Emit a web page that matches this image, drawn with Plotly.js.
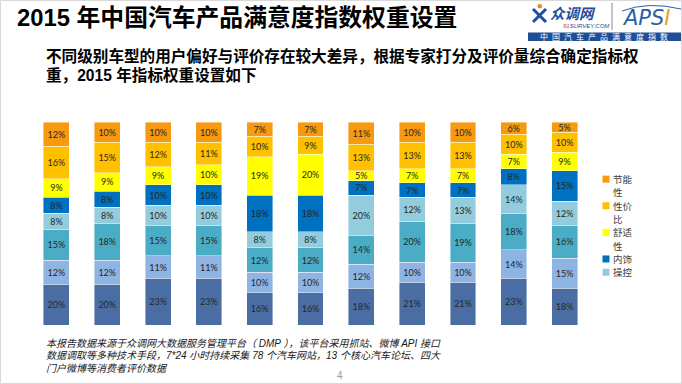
<!DOCTYPE html>
<html>
<head>
<meta charset="utf-8">
<script src="https://cdn.plot.ly/plotly-3.0.1.min.js"></script>
<style>
html,body{margin:0;padding:0;background:#fff;}
#chart{width:682px;height:384px;}
</style>
</head>
<body>
<div id="chart"></div>
<script>
// ---- data ----
const categories = ['车型1','车型2','车型3','车型4','车型5','车型6','车型7','车型8','车型9','车型10','车型11'];
// series from bottom of the stack to the top (percent)
const seriesNames = ['动力','空间','外观','操控','内饰','舒适性','性价比','节能性'];
const s1 = [20,20,23,23,16,16,18,21,21,23,18];
const s2 = [12,12,11,11,10,10,12,10,10,14,15];
const s3 = [15,18,15,15,12,12,14,20,19,18,16];
const s4 = [8,8,10,10,8,8,20,12,13,14,12];   // 操控
const s5 = [8,8,10,10,18,18,7,7,7,8,15];     // 内饰
const s6 = [9,9,9,10,19,20,5,7,7,7,9];       // 舒适性
const s7 = [16,15,12,11,10,9,13,13,13,10,10];// 性价比
const s8 = [12,10,10,10,7,7,11,10,10,6,5];   // 节能性
const seriesValues = [s1,s2,s3,s4,s5,s6,s7,s8];
// legend shows the top five series (as in the reference, the rest is cut off)
const legendSeries = [7,6,5,4,3];

const titleText = '2015 年中国汽车产品满意度指数权重设置';
const subLines = ['不同级别车型的用户偏好与评价存在较大差异，根据专家打分及评价量综合确定指标权',
                  '重，2015 年指标权重设置如下'];
const noteLines = ['本报告数据来源于众调网大数据服务管理平台（ DMP ），该平台采用抓站、微博 API 接口',
                   '数据调取等多种技术手段，7*24 小时持续采集 78 个汽车网站，13 个核心汽车论坛、四大',
                   '门户微博等消费者评价数据'];
const pageNo = '4';

// ---- styles ----
const colors = ['#4a6ea3','#8eb4e3','#4bacc6','#93cddd','#0070c0','#ffff00','#ffc000','#f79a10'];
const W = 682, H = 384;
const M = {l:31, r:92, t:122, b:59};
const PW = W - M.l - M.r, PH = H - M.t - M.b;
const px = v => (v - M.l) / PW;
const py = v => (H - M.b - v) / PH;
const CJK = '"Noto Sans CJK SC", sans-serif';
const LAT = 'Liberation Sans, "Noto Sans CJK SC", sans-serif';

const traces = seriesValues.map((vals, i) => ({
  type: 'bar',
  x: categories,
  y: vals,
  name: seriesNames[i],
  showlegend: false,
  marker: {color: colors[i], line: {color: 'rgba(255,255,255,0.7)', width: 0.6}},
  texttemplate: '%{y}%',
  textposition: 'inside',
  insidetextanchor: 'middle',
  textangle: 0,
  constraintext: 'none',
  textfont: {family: 'Lato, "Liberation Sans", sans-serif', size: 9, color: '#262626'},
  hoverinfo: 'skip'
}));

const ann = [];
const shapes = [];
ann.push({xref:'paper', yref:'paper', x:px(15), y:py(18), xanchor:'left', yanchor:'middle', showarrow:false,
  text:'<b>'+titleText+'</b>', font:{family:LAT, size:23.8, color:'#000'}});
subLines.forEach((t,i) => ann.push({xref:'paper', yref:'paper', x:px(44), y:py(56 + i*19), xanchor:'left', yanchor:'middle', showarrow:false,
  text:'<b>'+t+'</b>', font:{family:LAT, size:15.6, color:'#000'}}));
noteLines.forEach((t,i) => ann.push({xref:'paper', yref:'paper', x:px(44), y:py(343 + i*12.5), xanchor:'left', yanchor:'middle', showarrow:false,
  text:'<i>'+t+'</i>', font:{family:LAT, size:10, color:'#1a1a1a'}}));
ann.push({xref:'paper', yref:'paper', x:px(340), y:py(375), xanchor:'center', yanchor:'middle', showarrow:false,
  text:pageNo, font:{family:LAT, size:10, color:'#999'}});

// legend (narrow column, labels wrap after two characters as in the reference)
const LINE = 13.3;
let legTop = 172.5;
legendSeries.forEach(si => {
  const name = seriesNames[si];
  const lines = [];
  for (let k = 0; k < name.length; k += 2) lines.push(name.slice(k, k + 2));
  const cy = legTop + LINE / 2;
  shapes.push({type:'rect', xref:'paper', yref:'paper', x0:px(602.5), x1:px(609.5), y0:py(cy - 3.5), y1:py(cy + 3.5),
               line:{width:0}, fillcolor:colors[si]});
  lines.forEach((ln, j) => ann.push({xref:'paper', yref:'paper', x:px(612), y:py(cy + j * LINE), xanchor:'left', yanchor:'middle',
            showarrow:false, text:ln, font:{family:CJK, size:9.5, color:'#404040'}, borderpad:0}));
  legTop += lines.length * LINE;
});

// logo texts
ann.push({xref:'paper', yref:'paper', x:px(548), y:py(12), xanchor:'left', yanchor:'middle', showarrow:false,
  text:'<b><i>众调网</i></b>', font:{family:CJK, size:14.5, color:'#1d4f9c'}});
ann.push({xref:'paper', yref:'paper', x:px(561), y:py(26), xanchor:'left', yanchor:'middle', showarrow:false,
  text:'<i><span style="color:#d9342b">91</span>SURVEY.COM</i>', font:{family:LAT, size:6, color:'#1d4f9c'}});
ann.push({xref:'paper', yref:'paper', x:px(646), y:py(18), xanchor:'center', yanchor:'middle', showarrow:false,
  text:'<i>APS<span style="color:#e8a317">I</span></i>', font:{family:'"DejaVu Sans", sans-serif', size:21, color:'#2b5ea6'}});
ann.push({xref:'paper', yref:'paper', x:px(604.5), y:py(37), xanchor:'center', yanchor:'middle', showarrow:false,
  text:'中\u2002国\u2002汽\u2002车\u2002产\u2002品\u2002满\u2002意\u2002度\u2002指\u2002数', font:{family:CJK, size:8, color:'#fff'}});

// slide frame
shapes.push({type:'rect', xref:'paper', yref:'paper', x0:px(0.5), x1:px(681.5), y0:py(0.5), y1:py(383.5), line:{color:'#d9d9d9', width:1}, fillcolor:'rgba(0,0,0,0)', layer:'below'});
// logo bar
shapes.push({type:'rect', xref:'paper', yref:'paper', x0:px(528), x1:px(681), y0:py(32.5), y1:py(41), line:{width:0}, fillcolor:'#1f4e96'});
// logo divider
shapes.push({type:'line', xref:'paper', yref:'paper', x0:px(612), x1:px(612), y0:py(3), y1:py(30), line:{color:'#8a8a8a', width:1}});
// swoosh above APSI
shapes.push({type:'path', xref:'paper', yref:'paper',
  path:'M '+px(622)+','+py(11)+' Q '+px(648)+','+py(1)+' '+px(681)+','+py(9), line:{color:'#2b5ea6', width:1}});
// stylised figure
shapes.push({type:'line', xref:'paper', yref:'paper', x0:px(533), x1:px(546), y0:py(9), y1:py(22), line:{color:'#1d4f9c', width:3}});
shapes.push({type:'line', xref:'paper', yref:'paper', x0:px(546), x1:px(533), y0:py(9), y1:py(22), line:{color:'#1d4f9c', width:3}});
shapes.push({type:'circle', xref:'paper', yref:'paper', x0:px(537.5), x1:px(542), y0:py(4), y1:py(8.5), line:{width:0}, fillcolor:'#e8862a'});

const layout = {
  width: W, height: H,
  margin: M,
  paper_bgcolor: '#fff', plot_bgcolor: '#fff',
  barmode: 'stack',
  bargap: 0.49,
  showlegend: false,
  xaxis: {type:'category', range:[-0.5,10.5], showticklabels:false, showgrid:false, zeroline:false, showline:false, ticks:''},
  yaxis: {range:[0,100], showticklabels:false, showgrid:false, zeroline:false, showline:false, ticks:''},
  annotations: ann,
  shapes: shapes,
  hovermode: false
};

Plotly.newPlot('chart', traces, layout, {staticPlot:true, displayModeBar:false});
</script>
</body>
</html>
